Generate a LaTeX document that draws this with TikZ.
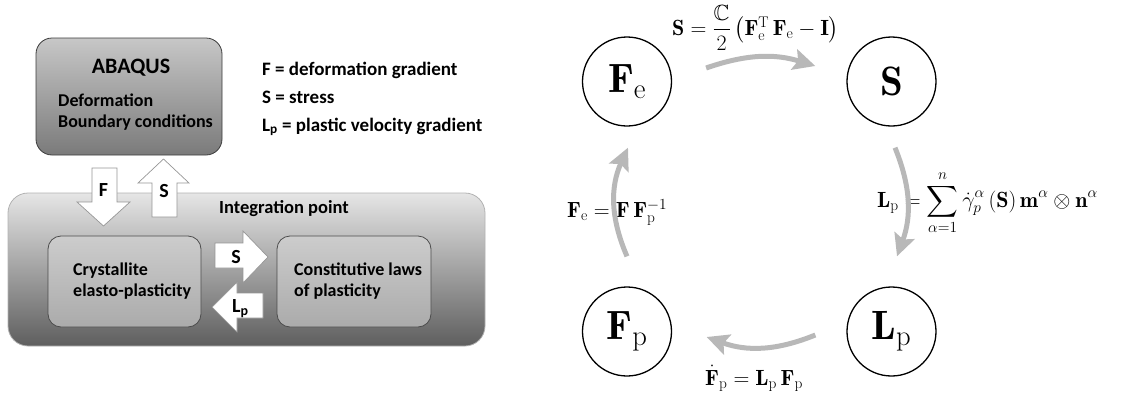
\RequirePackage{fix-cm}
\documentclass[tikz,border=0pt]{standalone}
\usepackage{amsmath,amssymb}
\usepackage{fontspec}
\newfontfamily\calibri{Carlito}
\usetikzlibrary{arrows.meta,positioning,calc}
\definecolor{cycleGray}{RGB}{184,184,184}
\definecolor{boxEdge}{RGB}{60,60,60}
\definecolor{arrowEdge}{RGB}{150,150,150}

\begin{document}
\begin{tikzpicture}[x=1pt,y=-1pt,
    abaqusbox/.style={draw=boxEdge, line width=0.8pt, rounded corners=16pt, inner sep=0pt,
      top color=black!22, bottom color=black!52},
    pointbox/.style={draw=black!30, line width=0.8pt, rounded corners=20pt, inner sep=0pt,
      top color=black!10, middle color=black!27, bottom color=black!63},
    lawbox/.style={draw=black!70, line width=0.8pt, rounded corners=13pt, inner sep=0pt,
      top color=black!20, bottom color=black!33},
    fatarrow/.style={draw=arrowEdge, fill=white, line width=0.7pt},
    boxtext/.style={font=\calibri\bfseries\fontsize{18}{21}\selectfont, align=left, inner sep=0pt},
    boxtitle/.style={font=\calibri\bfseries\fontsize{22}{26}\selectfont, inner sep=0pt},
    legendtext/.style={font=\calibri\bfseries\fontsize{19}{22}\selectfont, inner sep=0pt},
    arrowtext/.style={font=\calibri\bfseries\fontsize{20}{24}\selectfont, inner sep=0pt},
    statecircle/.style={circle, draw, line width=1.3pt, minimum size=89pt, inner sep=0pt,
      font=\fontsize{41}{48}\selectfont},
    eqtext/.style={inner sep=0pt, font=\fontsize{22}{26}\selectfont},
    cyclearrow/.style={draw=cycleGray, line width=5pt,
      -{Stealth[length=22pt,width=21pt,inset=4pt]}}]
  \useasboundingbox (0,0) rectangle (1130,399);

  % Left: ABAQUS and the integration point
  \node[abaqusbox, minimum width=186pt, minimum height=117pt] (abaqus) at (129,96.5) {};
  \node[boxtitle, anchor=base] (abaqustitle) at (131,73) {ABAQUS};
  \node[boxtext, anchor=base west] (abaqustext) at (58,127.5) {Deformation\\Boundary conditions};

  \node[legendtext, anchor=base west] (legF) at (262,75) {F = deformation gradient};
  \node[legendtext, anchor=base west] (legS) at (262,103) {S = stress};
  \node[legendtext, anchor=base west] (legL) at (262,131) {L\textsubscript{p} = plastic velocity gradient};

  \node[pointbox, minimum width=477pt, minimum height=153pt] (point) at (246.5,269.5) {};
  \node[boxtext, anchor=base, font=\calibri\bfseries\fontsize{18.5}{22}\selectfont] (pointtitle) at (284,213) {Integration point};
  \node[lawbox, minimum width=153pt, minimum height=91pt] (cryst) at (124.5,281.5) {};
  \node[boxtext, anchor=base west] (crysttext) at (73,296) {Crystallite\\elasto-plasticity};
  \node[lawbox, minimum width=154pt, minimum height=91pt] (const) at (354,281.5) {};
  \node[boxtext, anchor=base west] (consttext) at (294,296) {Constitutive laws\\of plasticity};

  % fat arrows between the boxes
  \draw[fatarrow] (92,168) -- (117,168) -- (117,202) -- (130,202) -- (103.5,226)
    -- (77,202) -- (92,202) -- cycle;
  \node[arrowtext, anchor=base] (arrF) at (103.5,196.5) {F};
  \draw[fatarrow] (152,217) -- (152,183) -- (138,183) -- (163.5,159) -- (189,183)
    -- (177,183) -- (177,217) -- cycle;
  \node[arrowtext, anchor=base] (arrS) at (164,197) {S};
  \draw[fatarrow] (215,243) -- (243,243) -- (243,231) -- (268,257) -- (243,283)
    -- (243,268) -- (215,268) -- cycle;
  \node[arrowtext, anchor=base] (arrSS) at (236,263) {S};
  \draw[fatarrow] (263,293) -- (237,293) -- (237,282) -- (212,307) -- (237,332)
    -- (237,318) -- (263,318) -- cycle;
  \node[arrowtext, anchor=base west] (arrL) at (232,312) {L\textsubscript{p}};

  % Right: the update cycle
  \node[statecircle] (Fe) at (627,81.5) {$\mathbf{F}_\mathrm{e}$};
  \node[statecircle] (S) at (891.5,81.5) {$\mathbf{S}$};
  \node[statecircle] (Lp) at (891.5,331.5) {$\mathbf{L}_\mathrm{p}$};
  \node[statecircle] (Fp) at (627,331.5) {$\mathbf{F}_\mathrm{p}$};

  \node[eqtext, anchor=base west] (eqS) at (672,35)
    {$\mathbf{S}=\dfrac{\mathbb{C}}{2}\left(\mathbf{F}_\mathrm{e}^\mathrm{T}\,\mathbf{F}_\mathrm{e}-\mathbf{I}\right)$};
  \node[eqtext, anchor=base west] (eqL) at (877,207)
    {$\displaystyle\mathbf{L}_\mathrm{p}=\sum_{\alpha=1}^{n}\dot{\gamma}_p^\alpha\left(\mathbf{S}\right)\mathbf{m}^\alpha\otimes\mathbf{n}^\alpha$};
  \node[eqtext, anchor=base west] (eqFp) at (705,385)
    {$\dot{\mathbf{F}}_\mathrm{p}=\mathbf{L}_\mathrm{p}\,\mathbf{F}_\mathrm{p}$};
  \node[eqtext, anchor=base west] (eqFe) at (567,217)
    {$\mathbf{F}_\mathrm{e}=\mathbf{F}\,\mathbf{F}_\mathrm{p}^{-1}$};

  \draw[cyclearrow] ($(Fe.east)+(34,-13.5)$) to[bend left=18] ($(S.west)+(-31,-15.5)$);
  \draw[cyclearrow] ($(S.south)+(3.5,21)$) to[bend left=21] ($(Lp.north)+(5.5,-30)$);
  \draw[cyclearrow] ($(Lp.west)+(-31,3.5)$) to[bend left=21] ($(Fp.east)+(34.5,5.5)$);
  \draw[cyclearrow] ($(Fp.north)+(0,-30)$) to[bend left=24] ($(Fe.south)+(1,21)$);
\end{tikzpicture}
\end{document}
